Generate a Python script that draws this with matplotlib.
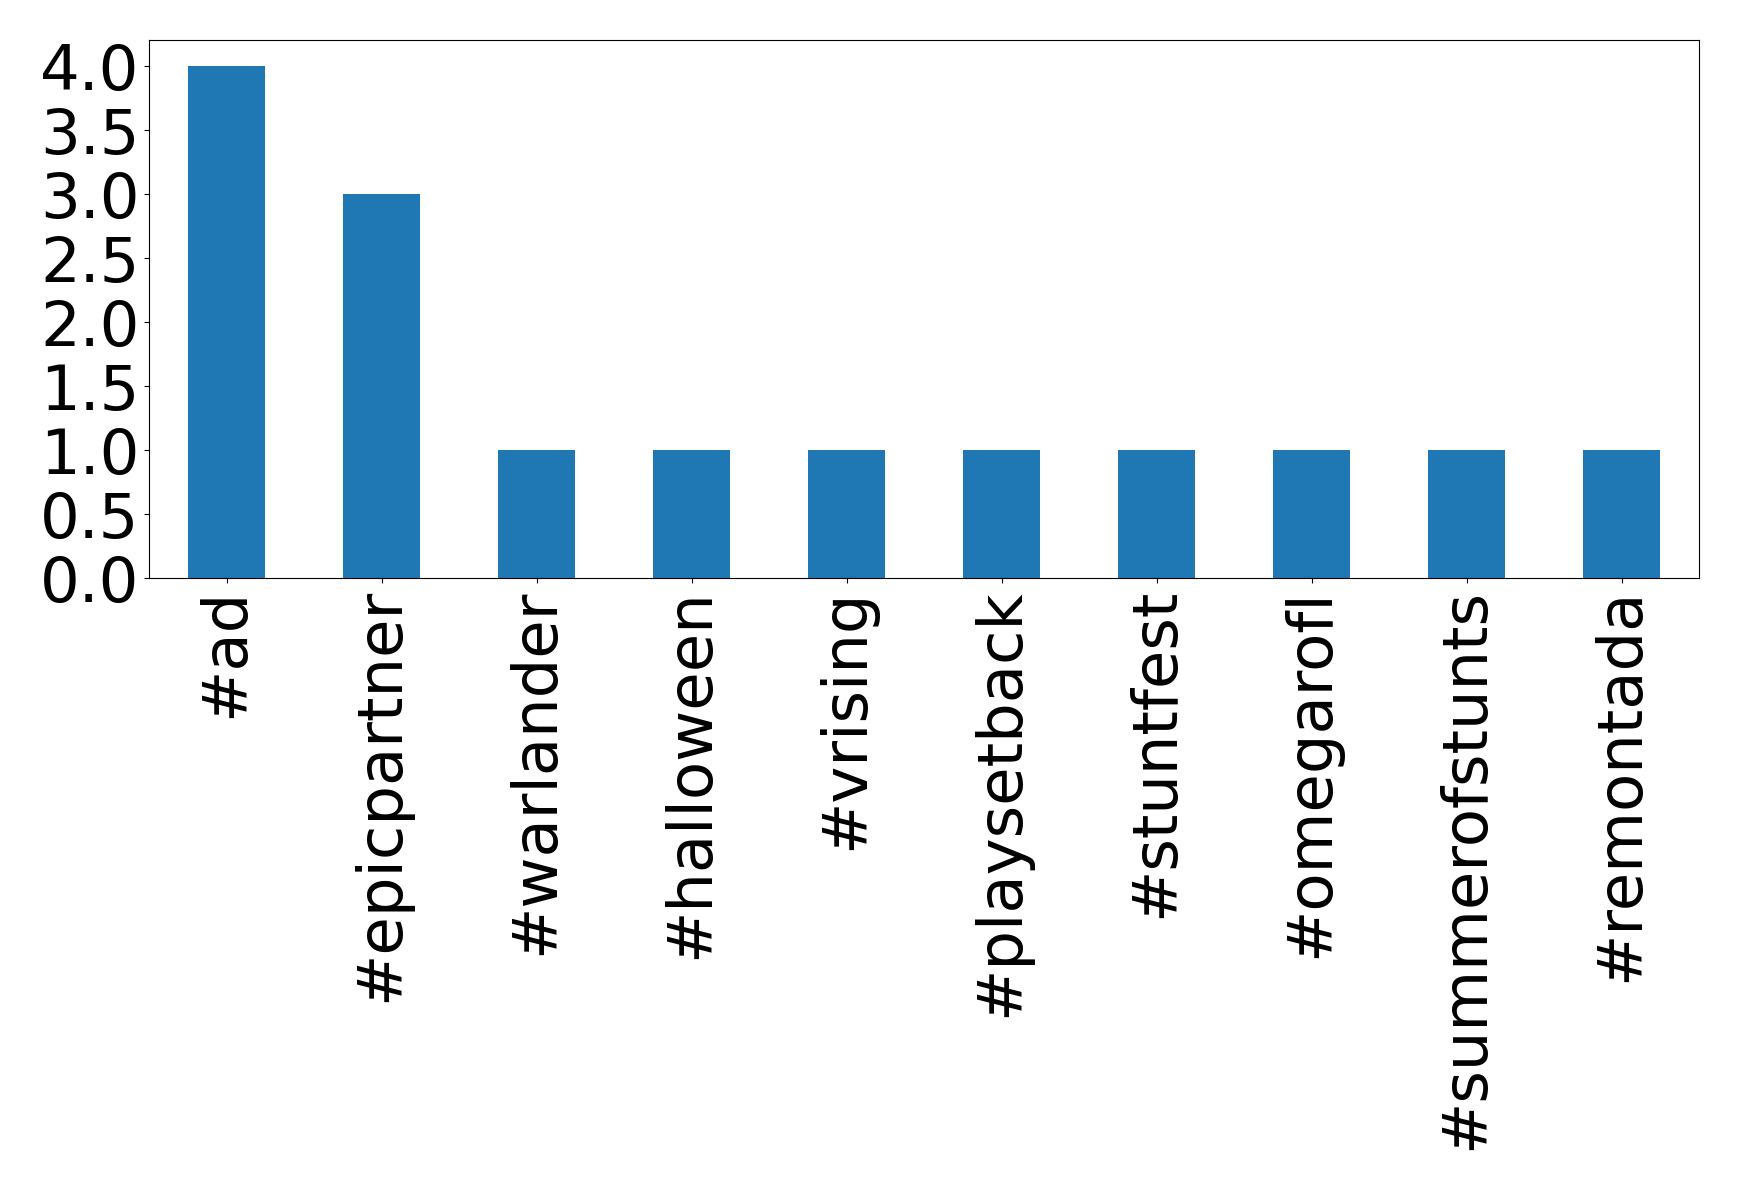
import pandas as pd
import matplotlib.pyplot as plt

# hashtag counts
hashtags = ['#ad', '#epicpartner', '#warlander', '#halloween', '#vrising',
            '#playsetback', '#stuntfest', '#omegarofl', '#summerofstunts', '#remontada']
counts = [4, 3, 1, 1, 1, 1, 1, 1, 1, 1]

counts_series = pd.Series(counts, index=hashtags)

fig, ax = plt.subplots(figsize=(17.39, 11.9), dpi=100)
counts_series.plot(kind='bar', ax=ax, color='#1f77b4', fontsize=45)
ax.set_ylim(0, 4.2)
plt.subplots_adjust(left=0.0857, right=0.977, top=0.966, bottom=0.514)
plt.savefig('out.png', dpi=100)
